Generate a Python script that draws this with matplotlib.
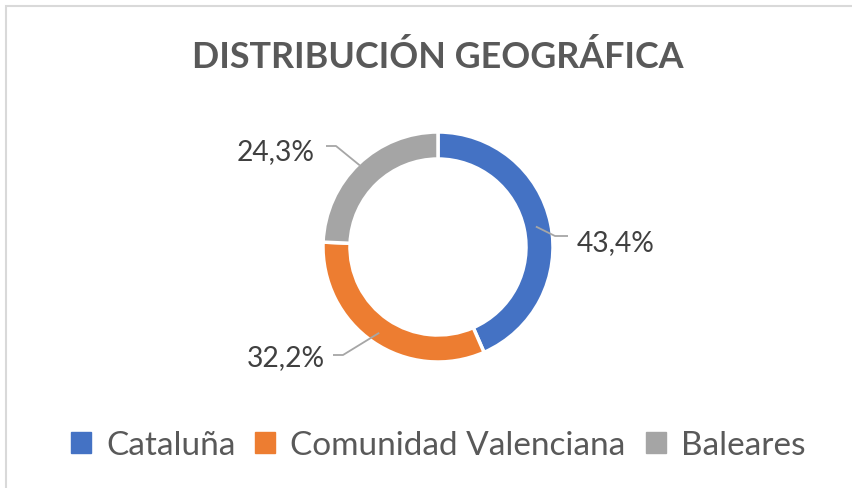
import matplotlib
matplotlib.use("Agg")
import matplotlib.pyplot as plt
import numpy as np
from matplotlib.patches import Rectangle

categories = ["Cataluña", "Comunidad Valenciana", "Baleares"]
values = [43.4, 32.2, 24.3]
colors = ["#4472C4", "#ED7D31", "#A5A5A5"]
title = "DISTRIBUCIÓN GEOGRÁFICA"

plt.rcParams['font.family'] = ['Lato', 'DejaVu Sans']

W, H = 853, 489
fig = plt.figure(figsize=(W / 100, H / 100), dpi=100)
ax = fig.add_axes([0, 0, 1, 1])

# chart border (only top and left visible)
ax.add_patch(Rectangle((6.5, -10), W + 20, H - 7 + 10, fill=False,
                       edgecolor="#D9D9D9", linewidth=1.5))

cx, cy = 438, H - 248
R = 115
wedges, _ = ax.pie(values, colors=colors, startangle=90, counterclock=False,
                   center=(cx, cy), radius=R, frame=True,
                   wedgeprops=dict(width=27, edgecolor="white", linewidth=2.5))
ax.set_xlim(0, W)
ax.set_ylim(0, H)
ax.set_aspect('equal')
ax.axis('off')

# data labels with leader lines
label_cfg = [
    dict(r=100, elbow=(555, 237), end=(568, 237), text=(577, 243), ha='left'),
    dict(r=104, elbow=(343, 356), end=(333, 356), text=(325, 358), ha='right'),
    dict(r=113, elbow=(336, 147), end=(326, 147), text=(315, 152), ha='right'),
]
for w, v, cfg in zip(wedges, values, label_cfg):
    ang = np.deg2rad((w.theta1 + w.theta2) / 2)
    x0 = cx + cfg['r'] * np.cos(ang)
    y0 = cy + cfg['r'] * np.sin(ang)
    ex, ey = cfg['elbow']
    fx, fy = cfg['end']
    ax.plot([x0, ex, fx], [y0, H - ey, H - fy], color="#A6A6A6", lw=1.3,
            solid_capstyle='butt', zorder=5)
    tx, ty = cfg['text']
    ax.text(tx, H - ty, f"{v:.1f}%".replace('.', ','), ha=cfg['ha'], va='center',
            fontsize=20.3, color="#404040")

ax.text(438, H - 57, title, ha='center', va='center', fontsize=25.8,
        fontweight='bold', color="#595959")

handles = [Rectangle((0, 0), 1, 1, color=c) for c in colors]
leg = ax.legend(handles, categories, loc='center', bbox_to_anchor=(438 / W, 1 - 446 / H),
                ncol=3, frameon=False, fontsize=24, handlelength=0.6, handleheight=0.6,
                handletextpad=0.45, columnspacing=0.6, labelcolor="#595959",
                borderpad=0, borderaxespad=0)

fig.savefig("out.png", dpi=100)
